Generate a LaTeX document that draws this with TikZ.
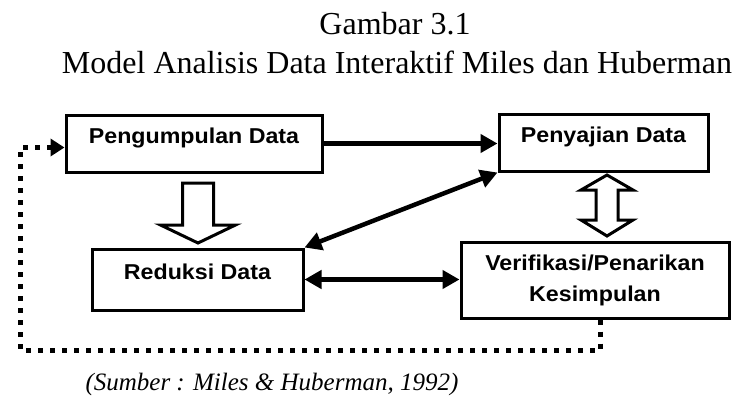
\documentclass[tikz,border=0pt]{standalone}
\usepackage{fontspec}
\setmainfont{Liberation Serif}
\newfontfamily\kotakfont[FakeStretch=1.08]{Liberation Sans}
\usepackage{tikz}
\usetikzlibrary{arrows.meta,positioning,calc}
\tikzstyle{box} = [draw, line width=3pt, inner sep=0pt, font=\kotakfont\bfseries\fontsize{21.5}{31}\selectfont, align=center]
\tikzstyle{line} = [draw, line width=4.5pt, -{Triangle[length=17pt,width=18pt]}]
\tikzstyle{dline} = [draw, line width=4.5pt, {Triangle[length=17pt,width=18pt]}-{Triangle[length=17pt,width=18pt]}]
\tikzstyle{hollow} = [draw, line width=3pt, fill=white, line join=miter]
\tikzstyle{loop} = [draw, line width=5pt, dash pattern=on 5pt off 7pt, -{Triangle[length=14pt,width=17pt]}]
\begin{document}
\begin{tikzpicture}[x=1pt,y=-1pt]
   		\useasboundingbox (0,0) rectangle (736,396);
   		%\draw[help lines,step=50] (0,0) grid (736,396); %grid for coordinates
   		\node (judul) [anchor=base, font=\fontsize{32}{39}\selectfont] at (395,35) {Gambar 3.1}; % title
   		\node (subjudul) [anchor=base, font=\fontsize{32}{39}\selectfont] at (397,74) {Model Analisis Data Interaktif Miles dan Huberman}; % subtitle
   		\node (kumpul) [box, minimum width=256pt, minimum height=57pt, text height=15pt, text depth=15pt] at (194,143.5) {Pengumpulan Data}; % top left box
   		\node (saji) [box, minimum width=209pt, minimum height=57pt, text height=15pt, text depth=15pt] at (603.5,142.5) {Penyajian Data}; % top right box
   		\node (reduksi) [box, minimum width=211pt, minimum height=61pt, text height=15pt, text depth=15pt] at (197.5,279.5) {Reduksi Data}; % bottom left box
   		\node (verif) [box, minimum width=268pt, minimum height=76pt] at (595,280) {Verifikasi/Penarikan\\Kesimpulan}; % bottom right box
   		\draw[line] (kumpul.east) -- (kumpul.east -| saji.west); % collection to display
   		\draw[dline] (reduksi.north east) -- (saji.south west); % reduction to display
   		\draw[dline] (reduksi.east) -- (reduksi.east -| verif.west); % reduction to conclusion
   		\draw[hollow] (182.5,183) -- (182.5,225) -- (160.5,225) -- (198,243) -- (235.5,225) -- (213.5,225) -- (213.5,183) -- cycle; % hollow arrow down
   		\draw[hollow] (607,175) -- (633,190) -- (618,190) -- (618,220) -- (633,220) -- (607,236) -- (581,220) -- (596,220) -- (596,190) -- (581,190) -- cycle; % hollow double arrow
   		\coordinate (sudut) at (20,350); % bottom left corner of loop
   		\draw[loop] ([xshift=5pt]verif.south) |- (sudut) |- ([yshift=-4pt]kumpul.west); % dotted loop back
   		\node (sumber) [anchor=base west, font=\itshape\fontsize{25}{30}\selectfont] at (82,390) {(Sumber : Miles \& Huberman, 1992)}; % source
\end{tikzpicture}
\end{document}
